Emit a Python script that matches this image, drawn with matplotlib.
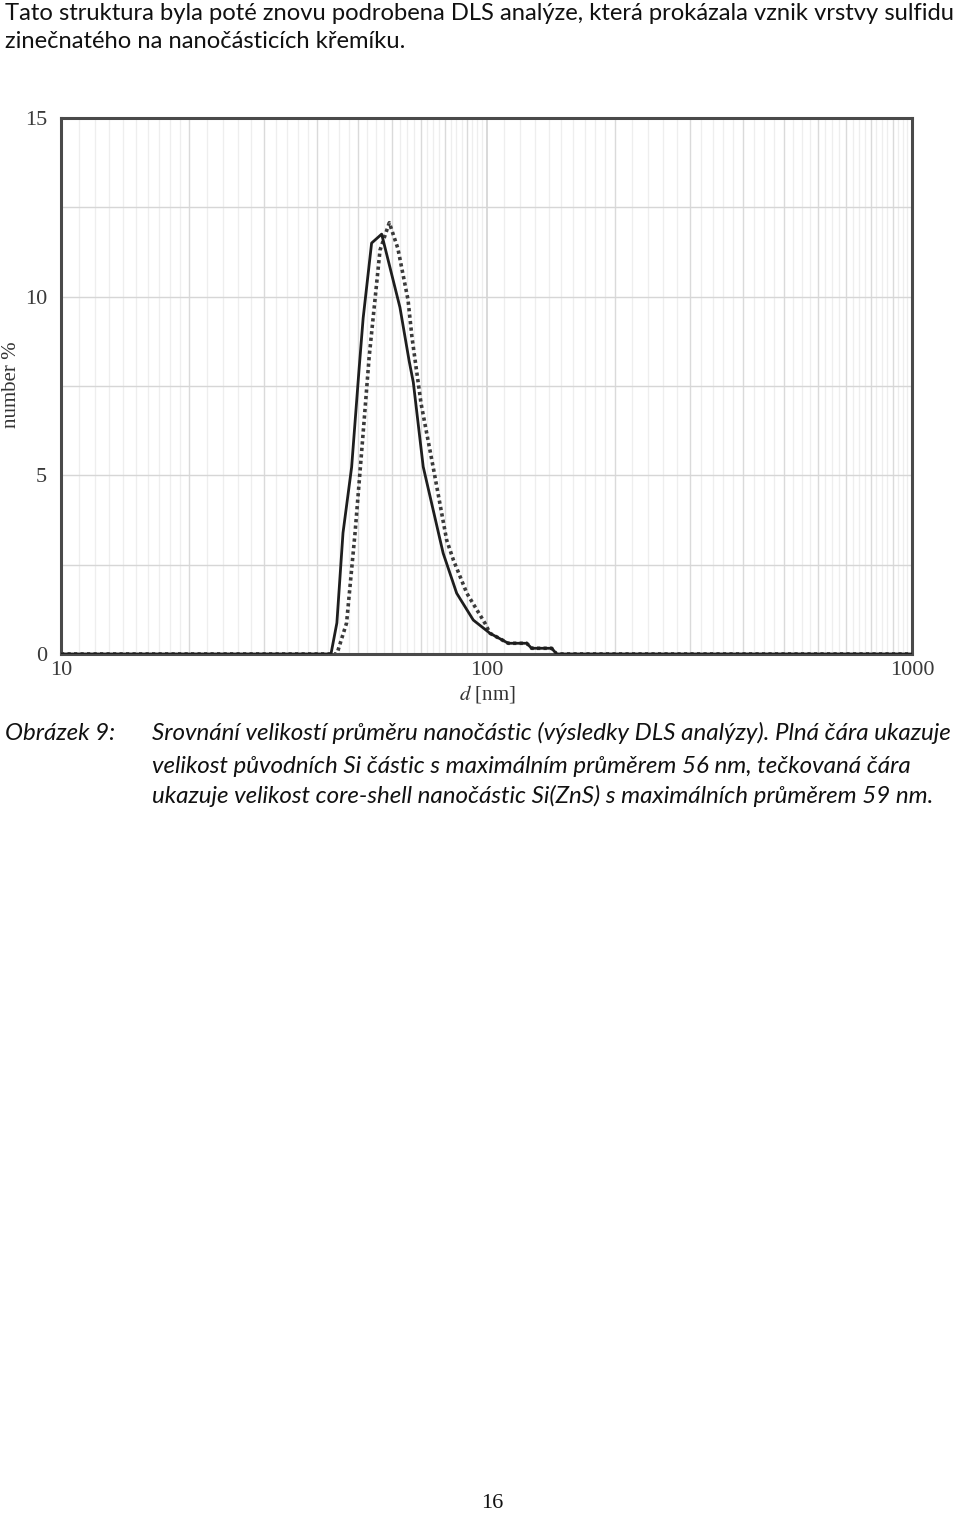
import numpy as np
import matplotlib
matplotlib.use("Agg")
import matplotlib.pyplot as plt
from matplotlib.ticker import FixedLocator, NullFormatter

# ---------------- data ----------------
si_d = [10, 43.1, 44.5, 46.0, 48.2, 50.2, 51.3, 53.7, 56.7, 62.6, 65.8, 67.3,
        71.0, 77.8, 79.1, 85.1, 93.1, 101.9, 112.5, 124.3, 127.7, 142.3, 146.2, 1000]
si_pct = [0, 0, 0.87, 3.39, 5.23, 8.0, 9.4, 11.5, 11.75, 9.7, 8.2, 7.6,
          5.24, 3.19, 2.82, 1.70, 0.95, 0.58, 0.30, 0.30, 0.16, 0.16, 0, 0]

zns_d = [10, 44.5, 46.9, 49.1, 51.3, 53.0, 56.2, 59.1, 61.9, 65.4, 66.8, 70.2,
         74.9, 80.6, 83.6, 89.9, 99.2, 101.9, 112.5, 124.3, 127.7, 142.3, 146.2, 1000]
zns_pct = [0, 0, 0.87, 3.39, 6.19, 8.32, 11.3, 12.07, 11.35, 9.91, 8.87, 7.0,
           5.24, 3.19, 2.63, 1.70, 0.86, 0.58, 0.30, 0.30, 0.16, 0.16, 0, 0]

y_ticks = [0, 5, 10, 15]
x_ticks = [10, 100, 1000]
x_tick_labels = ["10", "100", "1000"]

intro_lines = ["Tato struktura byla poté znovu podrobena DLS analýze, která prokázala vznik vrstvy sulfidu",
               "zinečnatého na nanočásticích křemíku."]
caption_label = "Obrázek 9:"
caption_lines = ["Srovnání velikostí průměru nanočástic (výsledky DLS analýzy). Plná čára ukazuje",
                 "velikost původních Si částic s maximálním průměrem 56 nm, tečkovaná čára",
                 "ukazuje velikost core-shell nanočástic Si(ZnS) s maximálních průměrem 59 nm."]
page_number = "16"

# ---------------- figure ----------------
W, H = 960, 1514
plt.rcParams["mathtext.fontset"] = "stix"
fig = plt.figure(figsize=(W / 100, H / 100), dpi=100)
fig.patch.set_facecolor("white")

def fx(x):
    return x / W

def fy(y):
    return 1 - y / H

renderer = fig.canvas.get_renderer()

def fit_text(x, y, s, target_w, size, ha="left", **kw):
    t = fig.text(fx(x), fy(y), s, ha=ha, va="center", fontsize=size, **kw)
    bb = t.get_window_extent(renderer=renderer)
    t.set_fontsize(size * target_w / bb.width)
    return t

# axes
ax_l, ax_r, ax_t, ax_b = 61, 912, 118, 654
ax = fig.add_axes([fx(ax_l), fy(ax_b), (ax_r - ax_l) / W, (ax_b - ax_t) / H])
ax.set_xscale("log")
ax.set_xlim(10, 1000)
ax.set_ylim(0, 15)

# grid: faint fine lines, medium lines at 2..9 per decade
fine = []
for dec in (10, 100):
    for m in list(np.arange(1.1, 2.0, 0.1)) + list(np.arange(2.2, 4.0, 0.2)) + list(np.arange(4.25, 10.0, 0.25)):
        if abs(m - round(m)) > 1e-6:
            fine.append(dec * m)
for v in fine:
    ax.axvline(v, color="#eeeeee", lw=0.9, zorder=0)
for dec in (10, 100):
    for m in range(2, 10):
        ax.axvline(dec * m, color="#dadada", lw=1.0, zorder=0)
ax.axvline(100, color="#cfcfcf", lw=1.1, zorder=0)
for v in np.arange(2.5, 15, 2.5):
    ax.axhline(v, color="#d6d6d6", lw=1.0, zorder=0.5)

ax.plot(zns_d, zns_pct, color="#3a3a3a", lw=2.6, linestyle=(0, (0.9, 0.9)),
        solid_capstyle="butt", dash_capstyle="butt", zorder=2)
ax.plot(si_d, si_pct, color="#1e1e1e", lw=2.0, zorder=3)

for sp in ax.spines.values():
    sp.set_color("#4a4a4a")
    sp.set_linewidth(2.2)

ax.set_yticks(y_ticks)
ax.set_yticklabels([str(v) for v in y_ticks])
ax.xaxis.set_major_locator(FixedLocator(x_ticks))
ax.set_xticklabels(x_tick_labels)
ax.xaxis.set_minor_formatter(NullFormatter())
ax.tick_params(which="both", length=0)
ax.tick_params(axis="y", pad=10, labelsize=16, labelcolor="#3a3a3a")
ax.tick_params(axis="x", pad=5, labelsize=16, labelcolor="#3a3a3a")
for lab in ax.get_xticklabels() + ax.get_yticklabels():
    lab.set_fontfamily("Liberation Serif")

fig.text(fx(12), fy(385), "number %", rotation=90, ha="center", va="center",
         fontsize=15, family="Liberation Serif", color="#333333")
fig.text(fx(487), fy(694), r"$d$ [nm]", ha="center", va="center",
         fontsize=15, family="Liberation Serif", color="#333333")

# text
fit_text(5, 14, intro_lines[0], 950, 15, family="Lato", color="#111111")
t2 = fig.text(fx(5), fy(42), intro_lines[1], ha="left", va="center", family="Lato", color="#111111")
t2.set_fontsize(fig.texts[-2].get_fontsize())

cap = fit_text(5, 733, caption_label, 108, 15, family="Lato", style="italic", color="#111111")
c1 = fit_text(152, 733, caption_lines[0], 803, 15, family="Lato", style="italic", color="#111111")
cs = c1.get_fontsize()
cap.set_fontsize(cs)
fig.text(fx(152), fy(766), caption_lines[1], ha="left", va="center", fontsize=cs,
         family="Lato", style="italic", color="#111111")
fig.text(fx(152), fy(796), caption_lines[2], ha="left", va="center", fontsize=cs,
         family="Lato", style="italic", color="#111111")

fig.text(fx(492), fy(1503), page_number, ha="center", va="center", fontsize=16,
         family="Liberation Serif", color="#111111")

fig.savefig("out.png", dpi=100, facecolor="white")
